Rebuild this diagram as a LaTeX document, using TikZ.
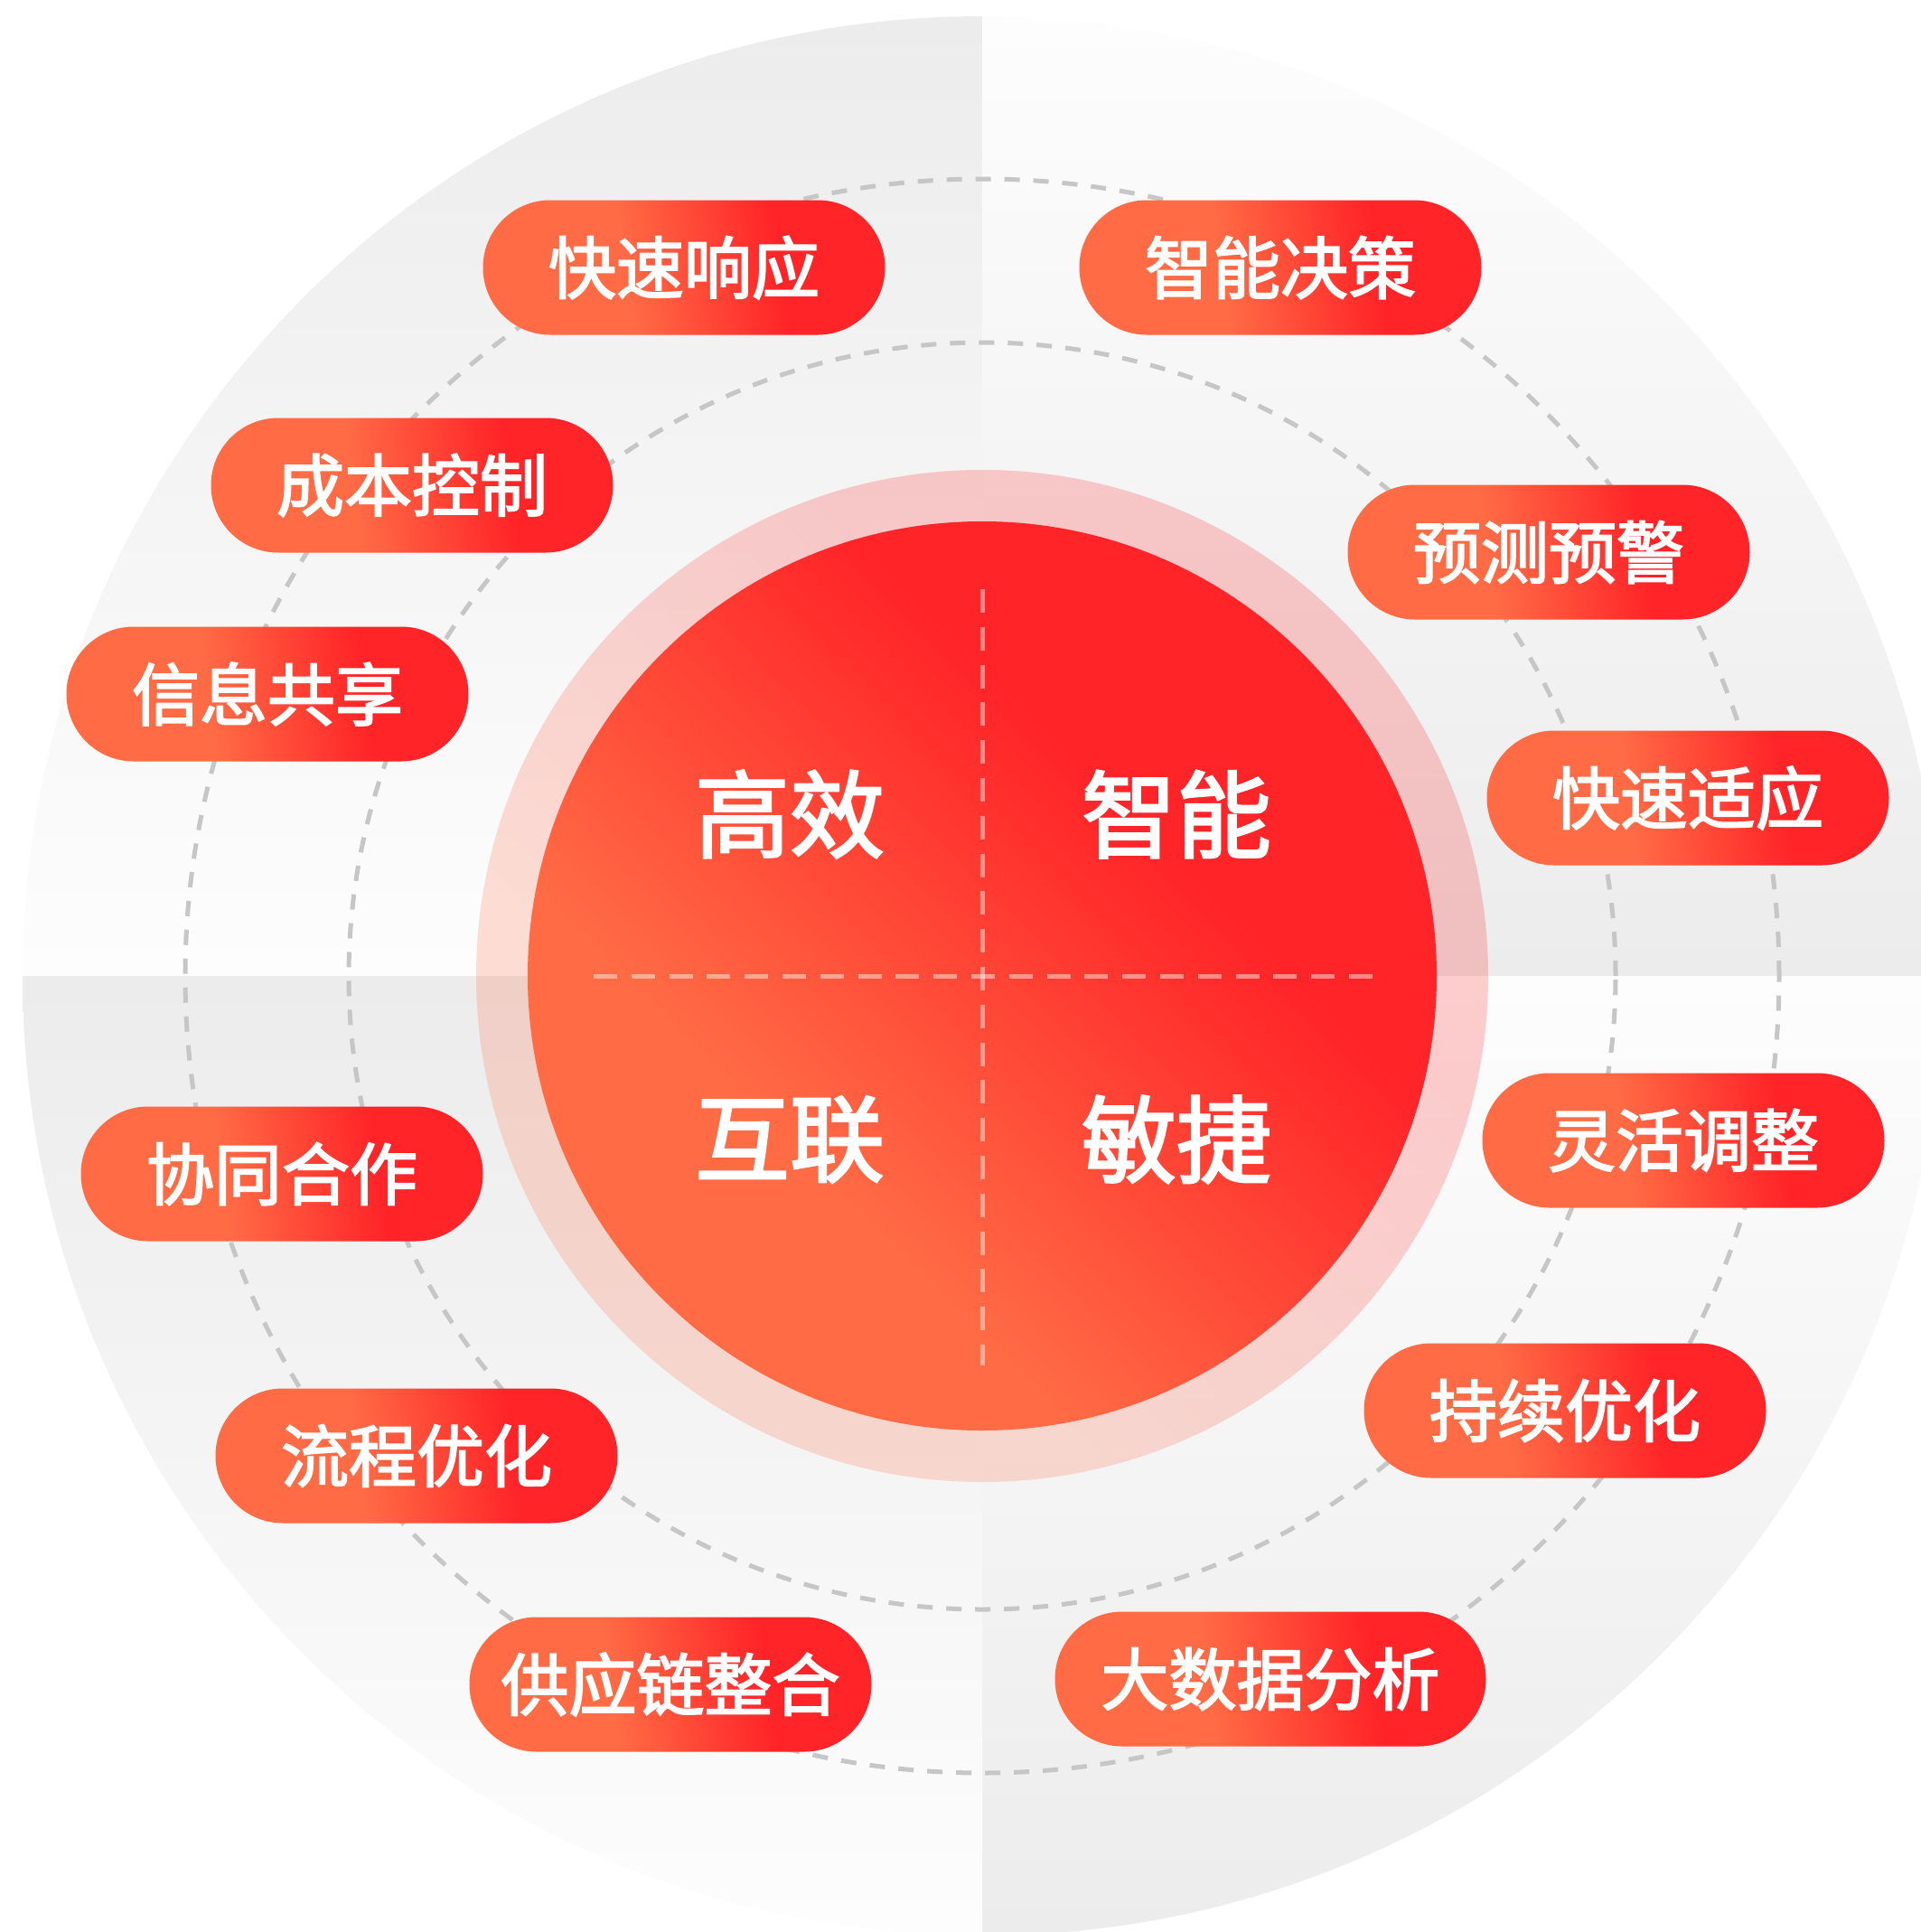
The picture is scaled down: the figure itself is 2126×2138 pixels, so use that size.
\documentclass[tikz,border=0pt]{standalone}
\usepackage{fontspec}
\newfontfamily\cjk{Noto Sans CJK SC}[FakeBold=2.5]
\definecolor{porange}{HTML}{FF6B45}
\definecolor{pred}{HTML}{FF2428}
\definecolor{bggray}{HTML}{ECECEC}
\definecolor{bgwhite}{HTML}{FDFDFD}
\definecolor{dashgray}{HTML}{C6C6C6}
\pgfdeclarehorizontalshading{pillsh}{100bp}{color(0bp)=(porange); color(42bp)=(porange); color(63bp)=(pred); color(100bp)=(pred)}
\pgfdeclarehorizontalshading{discsh}{100bp}{color(0bp)=(porange); color(36bp)=(porange); color(62bp)=(pred); color(100bp)=(pred)}
\begin{document}
\begin{tikzpicture}[x=0.5pt,y=0.5pt,
  pill/.style={shape=rectangle, rounded corners=37.25pt, minimum width=222.5pt, minimum height=74.5pt, inner sep=0pt, shade, shading=pillsh, shading angle=8, text=white, font=\cjk\fontsize{37.5pt}{40pt}\selectfont},
  widepill/.style={pill, minimum width=238.5pt},
  bigtxt/.style={text=white, inner sep=0pt, font=\cjk\fontsize{52.5pt}{56pt}\selectfont},
  ring/.style={draw=dashgray, line width=2.5pt, dash pattern=on 8.5pt off 7.5pt},
  cross/.style={draw=white, draw opacity=0.45, line width=2.5pt, dash pattern=on 13pt off 7.9pt}]
\useasboundingbox (0,0) rectangle (2126,-2138);
\clip (0,0) rectangle (2126,-2138);
\coordinate (C) at (1087,-1080);
% background quadrants
\shade[top color=bggray, bottom color=bgwhite] (C) -- (25,-1080) arc[start angle=180, end angle=90, radius=1062] -- cycle;
\shade[top color=bgwhite, bottom color=bggray] (C) -- (1087,-18) arc[start angle=90, end angle=0, radius=1062] -- cycle;
\shade[top color=bgwhite, bottom color=bggray] (C) -- (2149,-1080) arc[start angle=0, end angle=-90, radius=1062] -- cycle;
\shade[top color=bggray, bottom color=bgwhite] (C) -- (1087,-2142) arc[start angle=270, end angle=180, radius=1062] -- cycle;
% dashed rings
\draw[ring] (C) circle[radius=701];
\draw[ring] (C) circle[radius=882];
% halo and disc
\shade[shading=discsh, shading angle=45, opacity=0.22] (C) circle[radius=560];
\shade[shading=discsh, shading angle=45] (C) circle[radius=503];
% cross dashes
\coordinate (hl) at (657,-1080);
\coordinate (hr) at (1519,-1080);
\coordinate (vt) at (1087,-652);
\coordinate (vb) at (1087,-1511);
\draw[cross] (hl) -- (hr);
\draw[cross] (vt) -- (vb);
% center texts
\node[bigtxt] (gaoxiao) at (874,-901) {高效};
\node[bigtxt] (zhineng) at (1302,-901) {智能};
\node[bigtxt] (hulian) at (874,-1261) {互联};
\node[bigtxt] (minjie) at (1302,-1261) {敏捷};
% pills
\node[pill] (p1) at (757,-296) {快速响应};
\node[pill] (p2) at (1417,-296) {智能决策};
\node[pill] (p3) at (456,-537) {成本控制};
\node[pill] (p4) at (1714,-611) {预测预警};
\node[pill] (p5) at (296,-768) {信息共享};
\node[pill] (p6) at (1868,-883) {快速适应};
\node[pill] (p7) at (312,-1299) {协同合作};
\node[pill] (p8) at (1863,-1262) {灵活调整};
\node[pill] (p9) at (461,-1611) {流程优化};
\node[pill] (p10) at (1732,-1561) {持续优化};
\node[pill] (p11) at (742,-1864) {供应链整合};
\node[widepill] (p12) at (1406,-1858) {大数据分析};
\end{tikzpicture}
\end{document}
